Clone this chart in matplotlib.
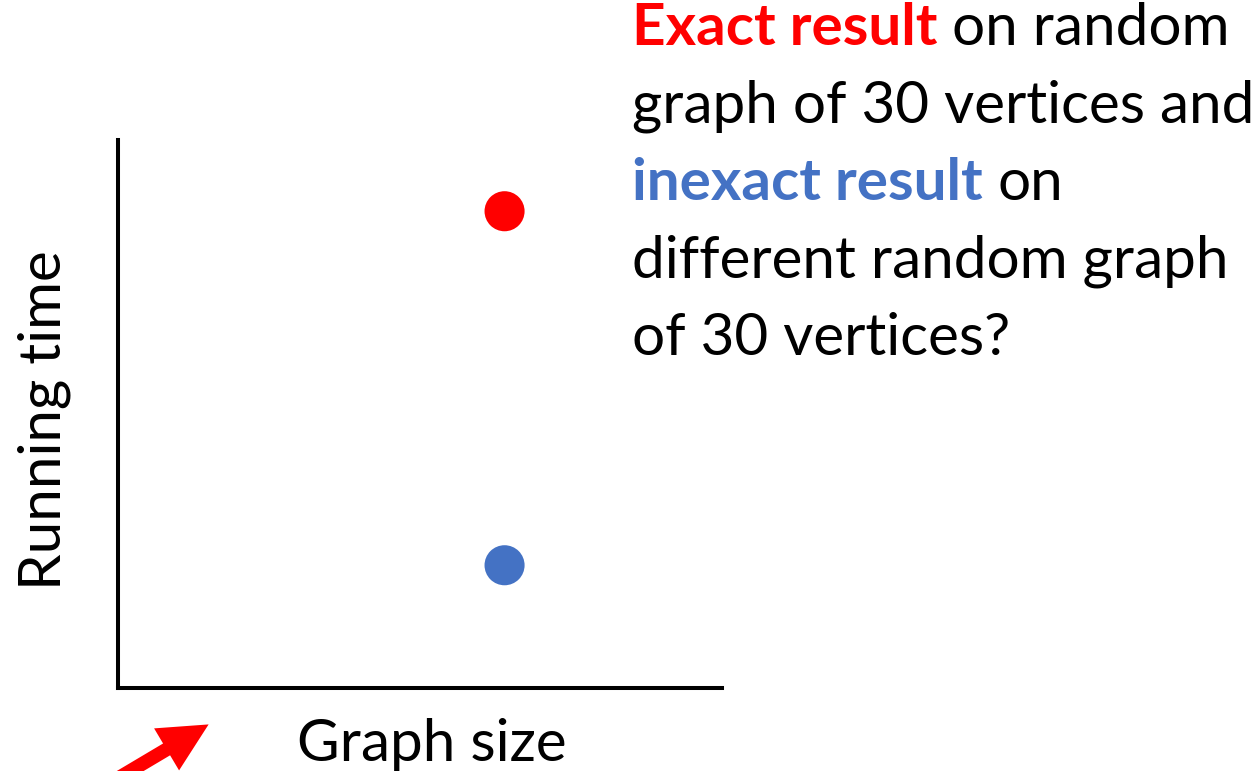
import matplotlib
matplotlib.use("Agg")
import matplotlib.pyplot as plt

# data (arbitrary units, no ticks shown)
graph_size = [6.4, 6.4]
running_time = [8.7, 2.24]
point_colors = ["#ff0000", "#4472c4"]

x_label = "Graph size"
y_label = "Running time"

# rich text lines: (text, color, weight)
question_lines = [
    [("Exact result", "#ff0000", "bold"), ("on random", "black", "normal")],
    [("graph of 30 vertices and", "black", "normal")],
    [("inexact result", "#4472c4", "bold"), ("on", "black", "normal")],
    [("different random graph", "black", "normal")],
    [("of 30 vertices?", "black", "normal")],
]

W, H = 1256, 771
fs = 42
plt.rcParams["font.family"] = ["Lato", "DejaVu Sans"]
fig = plt.figure(figsize=(W / 100, H / 100), dpi=100)
ax = fig.add_axes([118 / W, 1 - 688 / H, (722 - 118) / W, (688 - 140) / H])

ax.scatter(graph_size, running_time, s=40 ** 2 * 0.52, c=point_colors, edgecolors="none", zorder=3)
ax.set_xlim(0, 10)
ax.set_ylim(0, 10)
ax.set_xticks([])
ax.set_yticks([])
for side in ["top", "right"]:
    ax.spines[side].set_visible(False)
for side in ["left", "bottom"]:
    ax.spines[side].set_linewidth(2.9)
ax.set_xlabel(x_label, fontsize=fs)
ax.set_ylabel(y_label, fontsize=fs)
ax.xaxis.set_label_coords(0.52, -0.055)
ax.xaxis.label.set_va("top")
ax.yaxis.set_label_coords(-0.122, 0.488)
ax.yaxis.label.set_va("center")

# question text, drawn piece by piece so colours can change mid-line
renderer = fig.canvas.get_renderer()
probe1 = fig.text(0, 0, "x x", fontsize=fs)
probe2 = fig.text(0, 0, "xx", fontsize=fs)
space_w = probe1.get_window_extent(renderer).width - probe2.get_window_extent(renderer).width
probe1.remove()
probe2.remove()

x0 = 632
baseline0 = 45
line_step = 77.5
for i, parts in enumerate(question_lines):
    x = x0
    y = H - (baseline0 + i * line_step)
    for text, color, weight in parts:
        t = fig.text(x / W, y / H, text, fontsize=fs, color=color, fontweight=weight,
                     ha="left", va="baseline")
        x += t.get_window_extent(renderer).width + space_w

# red arrow at bottom-left
fig.add_artist(matplotlib.patches.FancyArrowPatch(
    (105 / W, -15 / H), (211 / W, 1 - 723 / H), transform=fig.transFigure,
    arrowstyle="simple,head_length=1.6,head_width=1.6,tail_width=0.45",
    mutation_scale=22, color="#ff0000", lw=0))

fig.savefig("out.png", dpi=100)
